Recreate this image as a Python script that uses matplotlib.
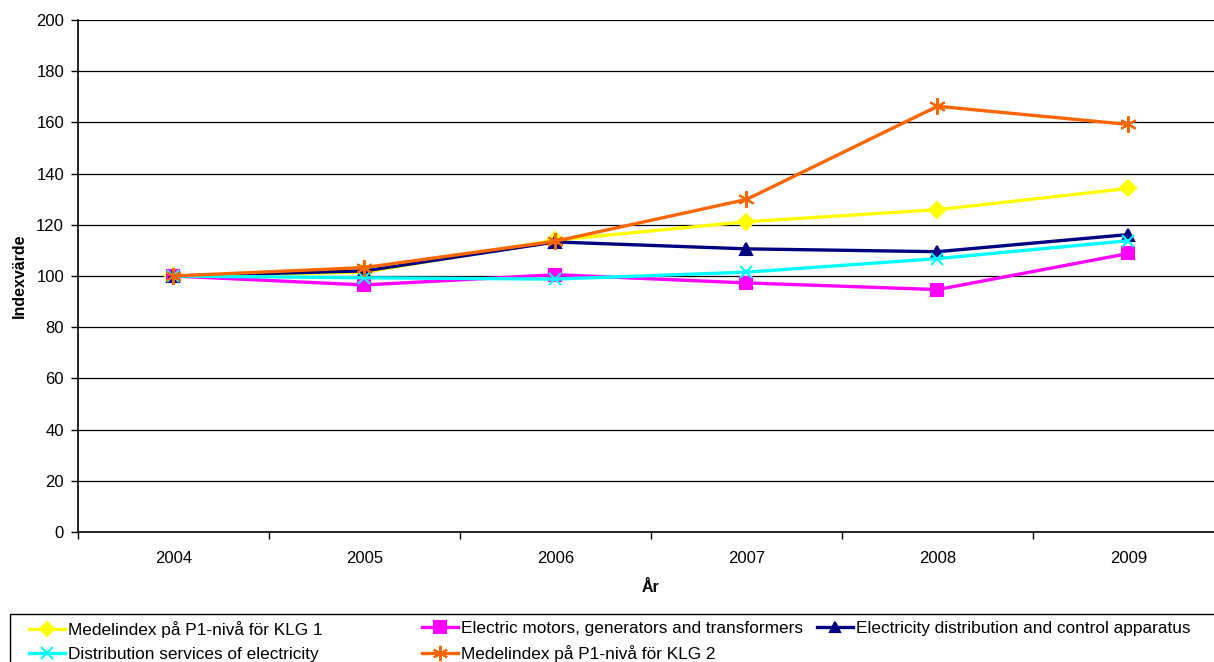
import matplotlib.pyplot as plt
from matplotlib.lines import Line2D
from matplotlib.patches import Rectangle

plt.rcParams['font.family'] = ['Liberation Sans', 'DejaVu Sans']

years = ["2004", "2005", "2006", "2007", "2008", "2009"]

klg1 = [100, 101.5, 114, 121.2, 125.9, 134.2]
motors = [100, 96.5, 100.5, 97.3, 94.7, 108.8]
distribution = [100, 102, 113.3, 110.6, 109.5, 116.2]
services = [100, 99.3, 98.8, 101.5, 106.8, 113.8]
klg2 = [100, 103.3, 113.6, 129.9, 166.3, 159.2]

labels = ["Medelindex på P1-nivå för KLG 1",
          "Electric motors, generators and transformers",
          "Electricity distribution and control apparatus",
          "Distribution services of electricity",
          "Medelindex på P1-nivå för KLG 2"]
colors = ["#FFFF00", "#FF00FF", "#000080", "#00FFFF", "#FF6600"]
markers = ["D", "s", "^", "x", (6, 2, 0)]
sizes = [8, 9, 8, 9, 12]

series = [klg1, motors, distribution, services, klg2]

fig = plt.figure(figsize=(12.14, 6.62), dpi=100)
ax = fig.add_axes([78 / 1214, 1 - 532 / 662, (1224 - 78) / 1214, 512 / 662])

x = range(len(years))
for vals, lab, c, m, s in zip(series, labels, colors, markers, sizes):
    ax.plot(x, vals, color=c, lw=2.4, marker=m, markersize=s,
            markeredgewidth=1.5, label=lab)

ax.set_ylim(0, 200)
ax.set_yticks(range(0, 201, 20))
ax.set_xlim(-0.5, len(years) - 0.5)
ax.set_xticks(list(x))
ax.set_xticklabels(years)
ax.set_xticks([i - 0.5 for i in range(len(years) + 1)], minor=True)
ax.tick_params(axis='x', which='major', length=0, pad=14, labelsize=12)
ax.tick_params(axis='x', which='minor', length=5, width=1)
ax.tick_params(axis='y', length=5, width=1, labelsize=12, pad=5)
ax.yaxis.grid(True, color='black', lw=0.9)
ax.set_axisbelow(True)
for side in ['top', 'right']:
    ax.spines[side].set_visible(False)
ax.spines['left'].set_linewidth(1.2)
ax.spines['bottom'].set_linewidth(1.2)

ax.set_ylabel("Indexvärde", fontsize=11.5, fontweight='bold', labelpad=7)
ax.set_xlabel("År", fontsize=11.5, fontweight='bold', labelpad=10)

# legend box drawn as three single-column legends inside one frame
fig.patches.append(Rectangle((10 / 1214, -0.01), 1.0, (662 - 614) / 662 + 0.01,
                             transform=fig.transFigure, fill=False,
                             edgecolor='black', lw=1))
handles = [Line2D([], [], color=c, lw=2.4, marker=m, markersize=s - 1,
                  markeredgewidth=1.5) for c, m, s in zip(colors, markers, sizes)]
cols = [([0, 3], 29), ([1, 4], 422), ([2], 817)]
for idx, xpos in cols:
    leg = fig.legend([handles[i] for i in idx], [labels[i] for i in idx],
                     loc='upper left', bbox_to_anchor=(xpos / 1214, 1 - 621 / 662),
                     frameon=False, fontsize=12.4, handlelength=2.1,
                     handletextpad=0.15, labelspacing=0.55, borderpad=0,
                     borderaxespad=0)

fig.savefig("out.png", dpi=100)
